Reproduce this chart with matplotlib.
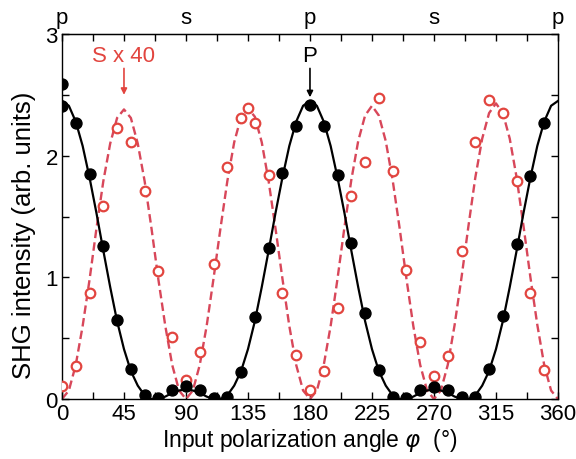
import matplotlib
matplotlib.use("Agg")
import matplotlib.pyplot as plt
from matplotlib.ticker import MultipleLocator

plt.rcParams["font.family"] = ["Liberation Sans", "DejaVu Sans"]
plt.rcParams["mathtext.fontset"] = "dejavusans"

# Measured P-polarized SHG (filled symbols)
p_angle = [0, 0, 10, 20, 30, 40, 50, 60, 70, 80, 90, 100, 110, 120, 130, 140, 150,
           160, 170, 180, 190, 200, 210, 220, 230, 240, 250, 260, 270, 280, 290,
           300, 310, 320, 330, 340, 350]
p_signal = [2.59, 2.41, 2.27, 1.85, 1.26, 0.65, 0.25, 0.03, 0.01, 0.07, 0.11, 0.07,
            0.01, 0.02, 0.22, 0.67, 1.24, 1.86, 2.24, 2.42, 2.24, 1.84, 1.28, 0.71,
            0.24, 0.02, 0.01, 0.07, 0.10, 0.07, 0.02, 0.02, 0.25, 0.68, 1.27, 1.83,
            2.27]

# Measured S-polarized SHG, scaled by 40 (open symbols)
s_angle = [0, 10, 20, 30, 40, 50, 60, 70, 80, 90, 100, 110, 120, 130, 135, 140, 150,
           160, 170, 180, 190, 200, 210, 220, 230, 240, 250, 260, 270, 280, 290,
           300, 310, 320, 330, 340, 350]
s_signal = [0.11, 0.27, 0.87, 1.59, 2.23, 2.11, 1.71, 1.05, 0.51, 0.16, 0.39, 1.11,
            1.91, 2.31, 2.39, 2.27, 1.84, 0.87, 0.36, 0.07, 0.23, 0.75, 1.67, 1.95,
            2.47, 1.87, 1.06, 0.47, 0.19, 0.35, 1.22, 2.11, 2.46, 2.35, 1.79, 0.87,
            0.24]

# Fitted curves, sampled every 5 degrees from 0 to 360
fit_angle = list(range(0, 361, 5))
p_fit = [2.45, 2.41, 2.28, 2.08, 1.82, 1.53, 1.22, 0.92, 0.64, 0.41, 0.23, 0.11,
         0.03, 0.00, 0.00, 0.02, 0.05, 0.07, 0.08,
         0.07, 0.05, 0.02, 0.00, 0.00, 0.03, 0.11, 0.23, 0.41, 0.64, 0.92, 1.22,
         1.53, 1.82, 2.08, 2.28, 2.41, 2.45,
         2.41, 2.28, 2.08, 1.82, 1.53, 1.22, 0.92, 0.64, 0.41, 0.23, 0.11, 0.03,
         0.00, 0.00, 0.02, 0.05, 0.07, 0.08,
         0.07, 0.05, 0.02, 0.00, 0.00, 0.03, 0.11, 0.23, 0.41, 0.64, 0.92, 1.22,
         1.53, 1.82, 2.08, 2.28, 2.41, 2.45]
s_fit = [0.00, 0.07, 0.28, 0.60, 0.98, 1.40, 1.79, 2.10, 2.31, 2.38, 2.31, 2.10,
         1.79, 1.40, 0.98, 0.60, 0.28, 0.07, 0.00,
         0.07, 0.28, 0.60, 0.99, 1.40, 1.79, 2.11, 2.32, 2.39, 2.32, 2.11, 1.79,
         1.40, 0.99, 0.60, 0.28, 0.07, 0.00,
         0.07, 0.28, 0.60, 0.99, 1.41, 1.80, 2.12, 2.33, 2.41, 2.33, 2.12, 1.80,
         1.41, 0.99, 0.60, 0.28, 0.07, 0.00,
         0.07, 0.28, 0.61, 1.00, 1.42, 1.82, 2.14, 2.35, 2.43, 2.35, 2.14, 1.82,
         1.42, 1.00, 0.61, 0.28, 0.07, 0.00]

x_ticks = [0, 45, 90, 135, 180, 225, 270, 315, 360]
top_ticks = [0, 90, 180, 270, 360]
top_labels = ["p", "s", "p", "s", "p"]

RED = "#e2453f"
RED_LINE = "#d8475a"

fig = plt.figure(figsize=(5.76, 4.60), dpi=100)
ax = fig.add_axes([0.1076, 0.1304, 0.8611, 0.7935])

ax.plot(fit_angle, s_fit, color=RED_LINE, lw=1.7, dashes=(3.6, 1.8), zorder=2)
ax.plot(fit_angle, p_fit, color="black", lw=1.6, zorder=3)
ax.plot(s_angle, s_signal, "o", ms=6.9, mfc="white", mec=RED, mew=1.6, zorder=4,
        linestyle="none")
ax.plot(p_angle, p_signal, "o", ms=7.9, color="black", zorder=5, linestyle="none")

ax.set_xlim(0, 360)
ax.set_ylim(0, 3)
ax.set_xticks(x_ticks)
ax.xaxis.set_minor_locator(MultipleLocator(22.5))
ax.yaxis.set_major_locator(MultipleLocator(1))
ax.yaxis.set_minor_locator(MultipleLocator(0.5))
ax.tick_params(which="both", direction="in", top=True, right=True, width=1.0)
ax.tick_params(which="major", length=5, labelsize=16, pad=3)
ax.tick_params(which="minor", length=5)
for s in ax.spines.values():
    s.set_linewidth(1.0)

ax.set_xlabel(r"Input polarization angle $\varphi$  (°)", fontsize=16.5, labelpad=1)
ax.set_ylabel("SHG intensity (arb. units)", fontsize=18.5)
ax.yaxis.set_label_coords(-0.052, 0.45)

top = ax.secondary_xaxis("top")
top.set_xticks(top_ticks)
top.set_xticklabels(top_labels)
top.tick_params(direction="in", length=0, labelsize=16, pad=4)

ax.annotate("S x 40", xy=(45, 2.50), xytext=(45, 2.74), color=RED, fontsize=16,
            ha="center", va="bottom",
            arrowprops=dict(arrowstyle="-|>", color=RED, lw=1.2, mutation_scale=9,
                            shrinkA=0, shrinkB=0))
ax.annotate("P", xy=(180, 2.48), xytext=(180, 2.74), color="black", fontsize=16,
            ha="center", va="bottom",
            arrowprops=dict(arrowstyle="-|>", color="black", lw=1.2, mutation_scale=9,
                            shrinkA=0, shrinkB=0))

fig.savefig("out.png", dpi=100)
